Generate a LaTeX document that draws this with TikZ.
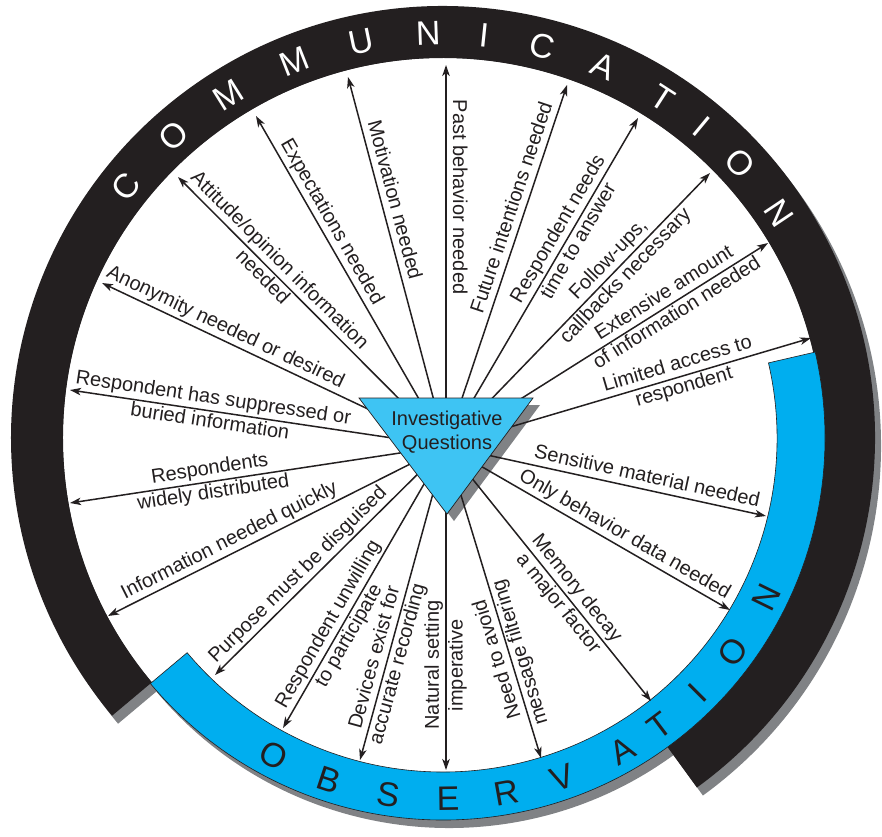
\documentclass[tikz,border=0pt]{standalone}
\usepackage{fontspec}
\setmainfont{Liberation Sans}
\usetikzlibrary{calc,arrows.meta}
\definecolor{ringblack}{RGB}{35,31,32}
\definecolor{ringblue}{RGB}{0,174,239}
\definecolor{triblue}{RGB}{62,196,243}
\definecolor{shadowgray}{RGB}{128,130,133}
\begin{document}
\begin{tikzpicture}[x=1pt,y=1pt,
  arr/.style={line width=1.5pt, draw=ringblack, -{Stealth[length=11pt,width=7.5pt,inset=3pt]}},
  lab/.style={font=\fontsize{20}{23}\selectfont, text=ringblack, inner sep=2.5pt, text height=14pt, text depth=4.5pt},
  abovelab/.style={lab, anchor=south},
  belowlab/.style={lab, anchor=north},
  ringletter/.style={font=\fontsize{34}{34}\selectfont, inner sep=0pt, text height=24pt, text depth=0pt, anchor=center},
]
\useasboundingbox (0,0) rectangle (882,-836);
\coordinate (C) at (443,-438);
\coordinate (Cs) at (449,-446);
\coordinate (hub) at (446,-446);
% ring shadows
\fill[shadowgray] (Cs) -- ($(Cs)+(-54:432pt)$) arc[start angle=-54,end angle=220,radius=432pt] -- cycle;
\fill[shadowgray] (Cs) -- ($(Cs)+(-140:382pt)$) arc[start angle=-140,end angle=13,radius=382pt] -- cycle;
\fill[white] (C) circle[radius=380pt];
% black ring
\fill[ringblack] ($(C)+(-54:432pt)$) arc[start angle=-54,end angle=220,radius=432pt] -- ($(C)+(220:380pt)$) arc[start angle=220,end angle=-54,radius=380pt] -- cycle;
% blue ring
\filldraw[fill=ringblue, draw=ringblack, line width=0.6pt] ($(C)+(-140:382pt)$) arc[start angle=-140,end angle=13,radius=382pt] -- ($(C)+(13:334pt)$) arc[start angle=13,end angle=-140,radius=334pt] -- cycle;
% ring letters
\foreach \a/\l [count=\i] in {141.6/C,131.8/O,122.0/M,111.5/M,101.6/U,92.1/N,84.1/I,75.8/C,66.6/A,57.2/T,50.3/I,42.7/O,33.8/N}
  \node[ringletter, text=white, rotate=\a-90] (com\i) at ($(C)+(\a:405pt)$) {\l};
\foreach \a/\l [count=\i] in {241.9/O,251.6/B,261.3/S,270.8/E,280.2/R,289.4/V,299.9/A,307.0/T,315.0/I,323.5/O,333.8/N}
  \node[ringletter, text=ringblack, rotate=\a+90] (obs\i) at ($(C)+(\a:360pt)$) {\l};
% triangle shadow
\coordinate (q1) at (359,-398);
\coordinate (q2) at (533,-398);
\coordinate (q3) at (447,-514);
\fill[shadowgray] ($(q1)+(7,-7)$) -- ($(q2)+(7,-7)$) -- ($(q3)+(7,-7)$) -- cycle;
% arrow tips
\coordinate (t1) at (70,-390);
\coordinate (t2) at (102,-283);
\coordinate (t3) at (178,-177);
\coordinate (t4) at (256,-116);
\coordinate (t5) at (348,-77);
\coordinate (t6) at (446,-65);
\coordinate (t7) at (567,-85);
\coordinate (t8) at (638,-118);
\coordinate (t9) at (710,-173);
\coordinate (t10) at (768,-243);
\coordinate (t11) at (811,-338);
\coordinate (t12) at (766,-516);
\coordinate (t13) at (730,-610);
\coordinate (t14) at (651,-701);
\coordinate (t15) at (541,-758);
\coordinate (t16) at (446,-770);
\coordinate (t17) at (360,-760);
\coordinate (t18) at (283,-728);
\coordinate (t19) at (215,-675);
\coordinate (t20) at (108,-616);
\coordinate (t21) at (70,-503);
\foreach \i in {1,...,21} \draw[arr] (hub) -- (t\i);
% labels
\node[abovelab, rotate=-8.5] (l1a) at ($(hub)!237pt!(t1)$) {Respondent has suppressed or};
\node[belowlab, rotate=-8.5] (l1b) at ($(hub)!237pt!(t1)$) {buried information};
\node[abovelab, rotate=-25.4] (l2) at ($(hub)!250pt!(t2)$) {Anonymity needed or desired};
\node[abovelab, rotate=-45.1] (l3a) at ($(hub)!249pt!(t3)$) {Attitude/opinion information};
\node[belowlab, rotate=-45.1] (l3b) at ($(hub)!249pt!(t3)$) {needed};
\node[abovelab, rotate=-60.1] (l4) at ($(hub)!251pt!(t4)$) {Expectations needed};
\node[abovelab, rotate=-75.1] (l5) at ($(hub)!251pt!(t5)$) {Motivation needed};
\node[abovelab, rotate=-90] (l6) at ($(hub)!249pt!(t6)$) {Past behavior needed};
\node[abovelab, rotate=71.5] (l7) at ($(hub)!247pt!(t7)$) {Future intentions needed};
\node[abovelab, rotate=59.7] (l8a) at ($(hub)!244pt!(t8)$) {Respondent needs};
\node[belowlab, rotate=59.7] (l8b) at ($(hub)!244pt!(t8)$) {time to answer};
\node[abovelab, rotate=46.0] (l9a) at ($(hub)!247pt!(t9)$) {Follow-ups,};
\node[belowlab, rotate=46.0] (l9b) at ($(hub)!247pt!(t9)$) {callbacks necessary};
\node[abovelab, rotate=32.2] (l10a) at ($(hub)!266pt!(t10)$) {Extensive amount};
\node[belowlab, rotate=32.2] (l10b) at ($(hub)!266pt!(t10)$) {of information needed};
\node[abovelab, rotate=16.5] (l11a) at ($(hub)!245pt!(t11)$) {Limited access to};
\node[belowlab, rotate=16.5] (l11b) at ($(hub)!245pt!(t11)$) {respondent};
\node[abovelab, rotate=-12.3] (l12) at ($(hub)!203pt!(t12)$) {Sensitive material needed};
\node[abovelab, rotate=-30.0] (l13) at ($(hub)!199pt!(t13)$) {Only behavior data needed};
\node[abovelab, rotate=-51.2] (l14a) at ($(hub)!193pt!(t14)$) {Memory decay};
\node[belowlab, rotate=-51.2] (l14b) at ($(hub)!193pt!(t14)$) {a major factor};
\node[abovelab, rotate=106.9] (l15a) at ($(hub)!219pt!(t15)$) {Need to avoid};
\node[belowlab, rotate=106.9] (l15b) at ($(hub)!219pt!(t15)$) {message filtering};
\node[abovelab, rotate=90] (l16a) at ($(hub)!219pt!(t16)$) {Natural setting};
\node[belowlab, rotate=90] (l16b) at ($(hub)!219pt!(t16)$) {imperative};
\node[abovelab, rotate=74.7] (l17a) at ($(hub)!223pt!(t17)$) {Devices exist for};
\node[belowlab, rotate=74.7] (l17b) at ($(hub)!223pt!(t17)$) {accurate recording};
\node[abovelab, rotate=60.0] (l18a) at ($(hub)!213pt!(t18)$) {Respondent unwilling};
\node[belowlab, rotate=60.0] (l18b) at ($(hub)!213pt!(t18)$) {to participate};
\node[abovelab, rotate=44.7] (l19) at ($(hub)!196pt!(t19)$) {Purpose must be disguised};
\node[abovelab, rotate=26.7] (l20) at ($(hub)!236pt!(t20)$) {Information needed quickly};
\node[abovelab, rotate=8.6] (l21a) at ($(hub)!237pt!(t21)$) {Respondents};
\node[belowlab, rotate=8.6] (l21b) at ($(hub)!237pt!(t21)$) {widely distributed};
% triangle
\filldraw[fill=triblue, draw=ringblack, line width=0.7pt] (q1) -- (q2) -- (q3) -- cycle;
\node[font=\fontsize{20}{24}\selectfont, text=ringblack, align=center, inner sep=0pt] (iq) at (447,-432.5) {Investigative\\Questions};
\end{tikzpicture}
\end{document}
